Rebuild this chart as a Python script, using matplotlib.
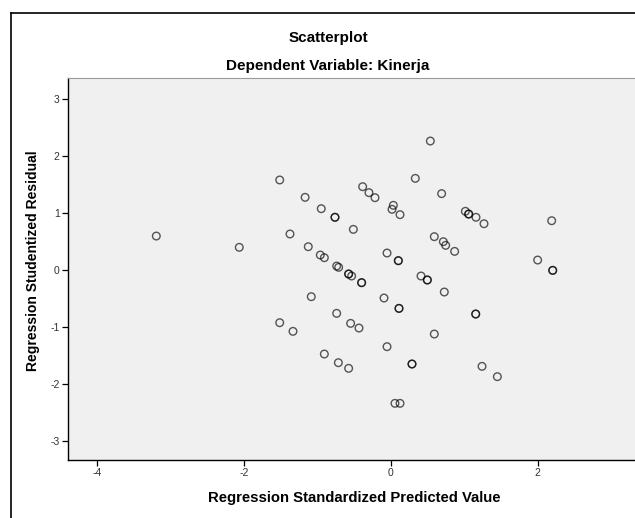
import matplotlib
matplotlib.use("Agg")
import matplotlib.pyplot as plt
from matplotlib.lines import Line2D

plt.rcParams["font.family"] = ["Liberation Sans", "DejaVu Sans"]
plt.rcParams["axes.unicode_minus"] = False

# Regression standardized predicted value (x) vs studentized residual (y)
pred = [-3.197, -2.067, -1.516, -1.376, -1.170, -1.127, -0.950, -0.963, -0.908,
        -0.763, -0.763, -0.740, -0.713, -0.577, -0.577, -0.536, -0.513, -0.400,
        -0.400, -0.386, -0.300, -0.218, -0.054, 0.032, 0.014, 0.123, 0.100,
        0.100, 0.331, 0.536, 0.409, 0.495, 0.495, 0.590, 0.690, 0.713, 0.745,
        0.726, 0.867, 1.013, 1.058, 1.058, 1.158, 1.267, 1.154, 1.154, 1.998,
        2.189, 2.203, 2.203, -0.095, 0.109, 0.109, -0.740, -0.550, -0.436,
        0.590, -0.054, -0.717, -0.577, 0.286, 0.286, 1.240, 1.449, 0.054,
        0.123, -1.086, -1.516, -1.335, -0.908]
resid = [0.596, 0.398, 1.580, 0.632, 1.275, 0.409, 1.076, 0.263, 0.216,
         0.925, 0.925, 0.070, 0.047, -0.070, -0.070, -0.105, 0.713, -0.222,
         -0.222, 1.462, 1.357, 1.269, 0.298, 1.135, 1.065, 0.971, 0.164,
         0.164, 1.608, 2.263, -0.105, -0.175, -0.175, 0.585, 1.340, 0.497, 0.433,
         -0.386, 0.327, 1.030, 0.982, 0.982, 0.925, 0.812, -0.772, -0.772, 0.175,
         0.865, -0.006, -0.006, -0.491, -0.673, -0.673, -0.760, -0.936, -1.018,
         -1.123, -1.345, -1.626, -1.725, -1.649, -1.649, -1.690, -1.871, -2.339,
         -2.339, -0.468, -0.924, -1.076, -1.474]

x_ticks = [-4, -2, 0, 2]
y_ticks = [-3, -2, -1, 0, 1, 2, 3]

W, H = 635, 518
fig = plt.figure(figsize=(W / 100, H / 100), dpi=100)

# outer chart frame (right and bottom edges are cut off in the original)
fx, fy = 10.5 / W, 1 - 12.5 / H
fig.add_artist(Line2D([fx, fx], [0, fy], color="black", lw=1.2))
fig.add_artist(Line2D([fx, 1], [fy, fy], color="black", lw=1.2))

ax = fig.add_axes([68 / W, 1 - 460 / H, (W - 68) / W, (460 - 77.7) / H])
ax.set_facecolor("#f0f0f0")
ax.scatter(pred, resid, s=30, facecolors="none", edgecolors="black",
           linewidths=1.0, alpha=0.65, zorder=3)

ax.set_xlim(-4.40, 3.324)
ax.set_ylim(-3.333, 3.374)
ax.set_xticks(x_ticks)
ax.set_yticks(y_ticks)
ax.tick_params(direction="out", length=4, width=0.9, labelsize=7.5,
               colors="black", labelcolor="#333333", pad=2)
for side in ("left", "bottom"):
    ax.spines[side].set_color("black")
    ax.spines[side].set_linewidth(1.0)
ax.spines["top"].set_color("#9a9a9a")
ax.spines["top"].set_linewidth(0.8)
ax.spines["right"].set_visible(False)

fig.text(328 / W, 1 - 38 / H, "Scatterplot", ha="center", va="center",
         fontsize=11, fontweight="bold")
fig.text(328 / W, 1 - 66 / H, "Dependent Variable: Kinerja", ha="center",
         va="center", fontsize=11, fontweight="bold")
fig.text(354 / W, 1 - 498 / H, "Regression Standardized Predicted Value",
         ha="center", va="center", fontsize=10.7, fontweight="bold")
fig.text(33 / W, 1 - 261 / H, "Regression Studentized Residual", ha="center",
         va="center", rotation=90, fontsize=10, fontweight="bold")

fig.savefig("out.png", dpi=100, facecolor="white")
